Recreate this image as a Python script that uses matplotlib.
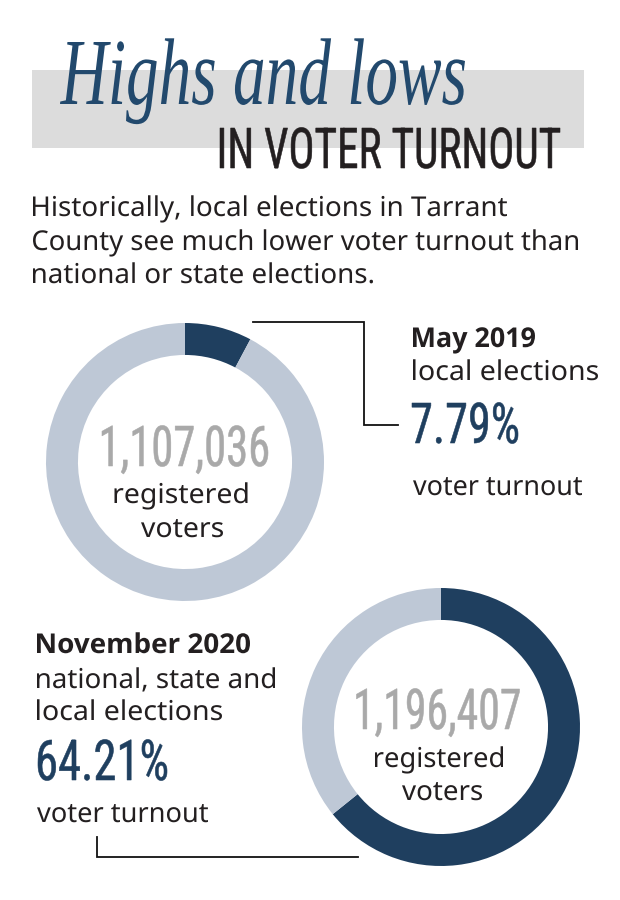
import matplotlib
matplotlib.use("Agg")
import matplotlib.pyplot as plt
from matplotlib import font_manager
from matplotlib.patches import Rectangle
from matplotlib.patheffects import AbstractPathEffect
from matplotlib.transforms import Affine2D, Bbox
from matplotlib.textpath import TextPath
from matplotlib.font_manager import FontProperties
from matplotlib.text import Text

# ---------------- data ----------------
elections = ["May 2019", "November 2020"]
election_desc = [["local elections"], ["national, state and", "local elections"]]
turnout_pct = [7.79, 64.21]
registered_voters = [1107036, 1196407]
title_script = "Highs and lows"
title_caps = "IN VOTER TURNOUT"
intro_lines = ["Historically, local elections in Tarrant",
               "County see much lower voter turnout than",
               "national or state elections."]
center_lines = ["registered", "voters"]
turnout_label = "voter turnout"

# ---------------- style ----------------
W, H, DPI = 620, 900, 100
NAVY = "#1f3f5f"
LIGHT = "#bec8d6"
BANNER = "#dcdcdc"
NUMGRAY = "#a9a9a9"
INK = "#231f20"
SCRIPT = "#22496d"

_entries = font_manager.fontManager.ttflist
names = {f.name for f in _entries}


def pick(*cands):
    for c in cands:
        if c in names:
            return c
    return "DejaVu Sans"


def _w(f):
    w = f.weight
    if isinstance(w, str):
        w = font_manager.weight_dict.get(w, 400)
    return w


def has_bold(fam):
    return any(f.name == fam and _w(f) >= 600 for f in _entries)


BODY = pick("Noto Sans", "Open Sans", "DejaVu Sans")
BODY_BOLD = next((c for c in [BODY, "Open Sans", "Lato", "Roboto", "DejaVu Sans"]
                  if c in names and has_bold(c)), "DejaVu Sans")
NARROW = pick("Roboto Condensed", "Liberation Sans Narrow", "Roboto", "Inter", "DejaVu Sans")
SERIF = pick("Liberation Serif", "DejaVu Serif")


class Condense(AbstractPathEffect):
    """Horizontally scale a text path about a pivot (pixels from the text origin),
    optionally thickening the strokes a little."""
    def __init__(self, sx, pivot=0.0, lw=0.0):
        super().__init__()
        self.sx = sx
        self.pivot = pivot
        self.lw = lw

    def draw_path(self, renderer, gc, tpath, affine, rgbFace=None):
        ox = affine.transform_point((0.0, 0.0))[0] + self.pivot
        tr = affine + Affine2D().translate(-ox, 0).scale(self.sx, 1.0).translate(ox, 0)
        if self.lw > 0 and rgbFace is not None:
            gc0 = renderer.new_gc()
            gc0.copy_properties(gc)
            gc0.set_linewidth(self.lw)
            gc0.set_foreground(rgbFace)
            gc0.set_joinstyle("round")
            renderer.draw_path(gc0, tpath, tr, rgbFace)
            gc0.restore()
        else:
            renderer.draw_path(gc, tpath, tr, rgbFace)


class CondensedText(Text):
    """A real Text whose glyphs are drawn horizontally condensed."""
    def __init__(self, x, y, s, sx=1.0, pivot=0.0, lw=0.0, **kw):
        super().__init__(x, y, s, **kw)
        self._sx = sx
        self._pivot = pivot
        self.set_path_effects([Condense(sx, pivot, lw)])

    def get_window_extent(self, renderer=None, dpi=None):
        bb = super().get_window_extent(renderer, dpi)
        ox = bb.x0 + self._pivot
        return Bbox.from_extents(ox + (bb.x0 - ox) * self._sx, bb.y0,
                                 ox + (bb.x1 - ox) * self._sx, bb.y1)


fig = plt.figure(figsize=(W / DPI, H / DPI), dpi=DPI)
fig.patch.set_facecolor("white")
ax = fig.add_axes([0, 0, 1, 1])
ax.set_xlim(0, W)
ax.set_ylim(H, 0)
ax.axis("off")
renderer = fig.canvas.get_renderer()


def put(s, x, base, cap, width, family, color, weight="normal", style="normal",
        ha="left", zorder=5, lw=0.0):
    fp = FontProperties(family=family, weight=weight, style=style)
    cap_ratio = TextPath((0, 0), "H", size=1, prop=fp).get_extents().ymax
    fs_px = cap / cap_ratio
    ext = TextPath((0, 0), s, size=fs_px, prop=fp).get_extents()
    sx = width / (ext.xmax - ext.xmin)
    L = x - width / 2 if ha == "center" else x          # wanted ink left edge
    fp.set_size(fs_px * 72 / DPI)
    probe = Text(0, 0, s, fontproperties=fp)
    probe.set_figure(fig)
    Wu = probe.get_window_extent(renderer).width          # unscaled layout width
    if ha == "center":
        x0 = (L + width / 2) - Wu / 2
    else:
        x0 = L - ext.xmin * sx
    x0 = min(max(x0, 3.0), W - 3.0 - Wu) if Wu < W - 6 else (W - Wu) / 2
    if abs(1 - sx) > 1e-6:
        p = (L - x0 - ext.xmin * sx) / (1 - sx)
    else:
        p = 0.0
        x0 = L - ext.xmin
    t = CondensedText(x0, base, s, sx=sx, pivot=p, lw=lw, fontproperties=fp,
                      color=color, ha="left", va="baseline", zorder=zorder)
    ax.add_artist(t)
    return t


# ---------------- header ----------------
ax.add_patch(Rectangle((32, 70), 552, 78, facecolor=BANNER, edgecolor="none", zorder=1))
put(title_script, 60, 104, 62, 405, SERIF, SCRIPT, style="italic", zorder=3)
put(title_caps, 220, 168, 40, 340, NARROW, INK, zorder=4, lw=0.4)

intro_base = [216, 250, 283]
intro_w = [474, 545, 340]
for s, b, w in zip(intro_lines, intro_base, intro_w):
    put(s, 33, b, 19.5, w, BODY, INK)

# ---------------- donuts ----------------
donuts = [dict(cx=185, cy=462, r=139), dict(cx=441, cy=727, r=139)]
for d, p in zip(donuts, turnout_pct):
    a = fig.add_axes([(d["cx"] - d["r"]) / W, (H - d["cy"] - d["r"]) / H,
                      2 * d["r"] / W, 2 * d["r"] / H])
    a.pie([p, 100 - p], colors=[NAVY, LIGHT], startangle=90, counterclock=False,
          wedgeprops=dict(width=0.23, edgecolor="none"))
    a.set_xlim(-1, 1)
    a.set_ylim(-1, 1)
    a.set_aspect("equal")
    a.axis("off")

# centre labels
num_pos = [dict(cx=185, base=466, w=166), dict(cx=438, base=729, w=163)]
reg_pos = [dict(cx=181, base=503, w=133), dict(cx=439, base=767, w=128)]
vot_pos = [dict(cx=182, base=537, w=82), dict(cx=442, base=800, w=80)]
for v, n, rg, vt in zip(registered_voters, num_pos, reg_pos, vot_pos):
    put(f"{v:,}", n["cx"], n["base"], 40, n["w"], NARROW, NUMGRAY, ha="center", lw=0.4)
    put(center_lines[0], rg["cx"], rg["base"], 19.5, rg["w"], BODY, INK, ha="center")
    put(center_lines[1], vt["cx"], vt["base"], 19.5, vt["w"], BODY, INK, ha="center")

# ---------------- side annotations ----------------
# May 2019 (right)
put(elections[0], 413, 347, 19.5, 122, BODY_BOLD, INK, weight="bold")
put(election_desc[0][0], 413, 380, 19.5, 185, BODY, INK)
put(f"{turnout_pct[0]:.2f}%", 412, 443, 40, 106, NARROW, NAVY, lw=0.4)
put(turnout_label, 413, 495, 19.5, 169, BODY, INK)

# November 2020 (left)
put(elections[1], 37, 653, 19.5, 213, BODY_BOLD, INK, weight="bold")
put(election_desc[1][0], 37, 688, 19.5, 238, BODY, INK)
put(election_desc[1][1], 37, 720, 19.5, 185, BODY, INK)
put(f"{turnout_pct[1]:.2f}%", 38, 780, 40, 129, NARROW, NAVY, lw=0.4)
put(turnout_label, 37, 822, 19.5, 171, BODY, INK)

# connectors
ax.plot([253, 364, 364, 398], [322, 322, 425, 425], color="#111111", lw=1.3,
        solid_joinstyle="miter", zorder=2)
ax.plot([97, 97, 358], [837, 857, 857], color="#111111", lw=1.3,
        solid_joinstyle="miter", zorder=2)

fig.savefig("out.png", dpi=DPI, facecolor="white")
